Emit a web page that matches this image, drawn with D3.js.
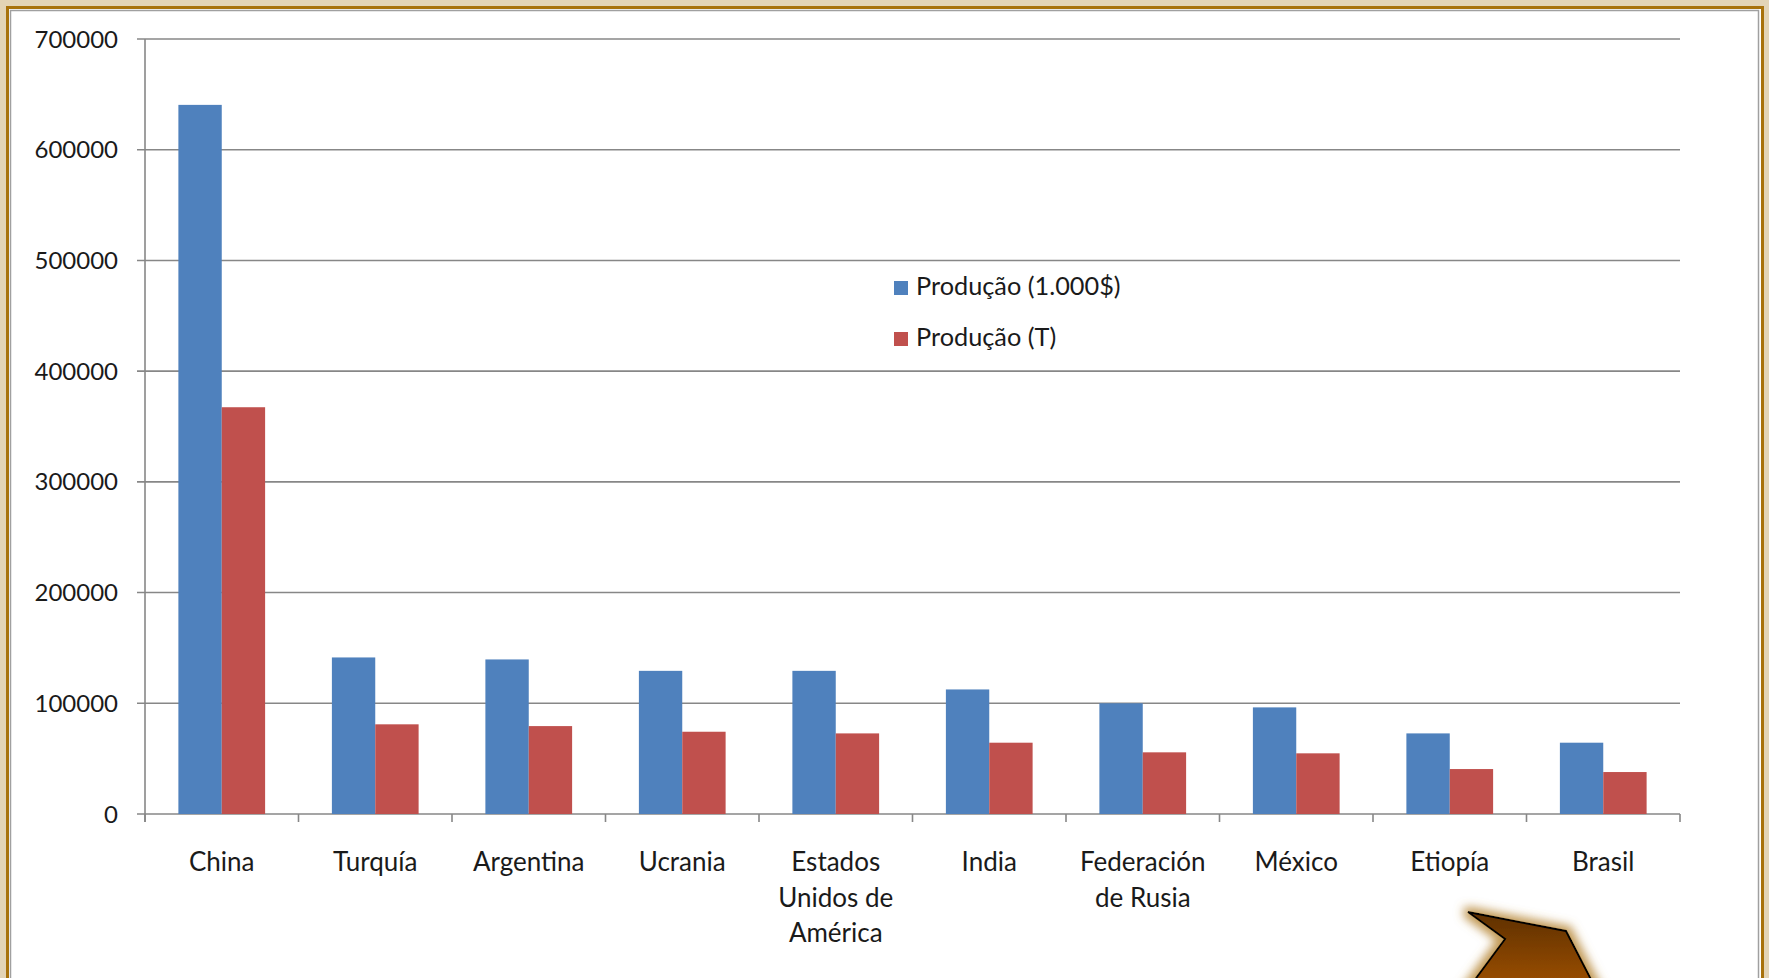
<!DOCTYPE html>
<html><head><meta charset="utf-8">
<script src="https://cdn.jsdelivr.net/npm/d3@7"></script>
<style>html,body{margin:0;padding:0;background:#e3d4b6;overflow:hidden}</style>
</head><body>
<script>
const categories = [["China"],["Turquía"],["Argentina"],["Ucrania"],["Estados","Unidos de","América"],["India"],["Federación","de Rusia"],["México"],["Etiopía"],["Brasil"]];
const seriesNames = ["Produção (1.000$)","Produção (T)"];
const valuesValor = [640500,141400,139600,129300,129300,112500,100000,96300,72800,64400];
const valuesTon = [367400,81000,79400,74300,72800,64400,55700,54800,40600,37900];
const yTicks = [0,100000,200000,300000,400000,500000,600000,700000];
const colors = ["#4f81bd","#c0504d"];

const W=1769,H=978;
const svg=d3.select("body").append("svg").attr("width",W).attr("height",H);
const defs=svg.append("defs");
// frame
svg.append("rect").attr("x",0).attr("y",0).attr("width",W).attr("height",H).attr("fill","#e3d4b6");
svg.append("rect").attr("x",7.5).attr("y",7.5).attr("width",1755).attr("height",H).attr("fill","#fff").attr("stroke","#a8720c").attr("stroke-width",3);
svg.append("rect").attr("x",10.5).attr("y",10.5).attr("width",1748).attr("height",H).attr("fill","#fff").attr("stroke","#a0a0a0").attr("stroke-width",1.5);

const font="Lato, 'Open Sans', sans-serif";
const x0=d3.scaleBand().domain(d3.range(categories.length)).range([145,1680]).paddingInner(0).paddingOuter(0);
const x1=d3.scaleBand().domain([0,1]).range([0,x0.bandwidth()]).paddingInner(0).paddingOuter(0.77);
const y=d3.scaleLinear().domain([0,700000]).range([814,39]);

// gridlines
svg.append("g").selectAll("line").data(yTicks).join("line")
 .attr("x1",137).attr("x2",1680).attr("y1",d=>y(d)).attr("y2",d=>y(d))
 .attr("stroke","#878787").attr("stroke-width",1.6);
// y axis line
svg.append("line").attr("x1",145).attr("x2",145).attr("y1",y(700000)).attr("y2",y(0)+8).attr("stroke","#878787").attr("stroke-width",1.6);
// x ticks
svg.append("g").selectAll("line").data(d3.range(categories.length+1)).join("line")
 .attr("x1",d=>145+d*x0.step()).attr("x2",d=>145+d*x0.step()).attr("y1",y(0)).attr("y2",y(0)+8)
 .attr("stroke","#878787").attr("stroke-width",1.6);
// y labels
svg.append("g").selectAll("text").data(yTicks).join("text")
 .attr("x",118).attr("y",d=>y(d)).attr("dy","0.36em").attr("text-anchor","end")
 .attr("font-family",font).attr("font-size",24).attr("fill","#1a1a1a").text(d=>d);

// bars
const data=categories.map((c,i)=>[valuesValor[i],valuesTon[i]]);
const g=svg.append("g");
data.forEach((vals,i)=>{
  g.selectAll(null).data(vals).join("rect")
   .attr("x",(d,j)=>x0(i)+x1(j)).attr("width",x1.bandwidth())
   .attr("y",d=>y(d)).attr("height",d=>y(0)-y(d)).attr("fill",(d,j)=>colors[j]);
});
// x labels
const xl=svg.append("g");
categories.forEach((lines,i)=>{
  const t=xl.append("text").attr("text-anchor","middle").attr("font-family",font).attr("font-size",26).attr("fill","#1a1a1a");
  lines.forEach((l,k)=>t.append("tspan").attr("x",x0(i)+x0.bandwidth()/2).attr("y",871+k*35.5).text(l));
});
// legend
const lg=svg.append("g");
seriesNames.forEach((s,i)=>{
  lg.append("rect").attr("x",894).attr("y",281+i*51).attr("width",14).attr("height",14).attr("fill",colors[i]);
  lg.append("text").attr("x",916).attr("y",295+i*51).attr("font-family",font).attr("font-size",25.3).attr("fill","#1a1a1a").text(s);
});

// arrow decoration
const grad=defs.append("linearGradient").attr("id","ag").attr("x1",0).attr("y1",0).attr("x2",0).attr("y2",1);
grad.append("stop").attr("offset","0%").attr("stop-color","#5e3000");
grad.append("stop").attr("offset","100%").attr("stop-color","#b85c00");
const f=defs.append("filter").attr("id","glow").attr("x","-30%").attr("y","-30%").attr("width","160%").attr("height","160%");
f.append("feMorphology").attr("in","SourceAlpha").attr("operator","dilate").attr("radius",4).attr("result","d");
f.append("feGaussianBlur").attr("in","d").attr("stdDeviation",5).attr("result","b");
f.append("feFlood").attr("flood-color","#b8893a").attr("flood-opacity",0.85);
f.append("feComposite").attr("in2","b").attr("operator","in").attr("result","s");
const fm=f.append("feMerge"); fm.append("feMergeNode").attr("in","s"); fm.append("feMergeNode").attr("in","SourceGraphic");
svg.append("path").attr("d","M1468,912 L1566,931 L1612,1020 L1445,1020 L1505,939 Z")
 .attr("fill","url(#ag)").attr("stroke","#000").attr("stroke-width",2).attr("filter","url(#glow)");
</script>
</body></html>
